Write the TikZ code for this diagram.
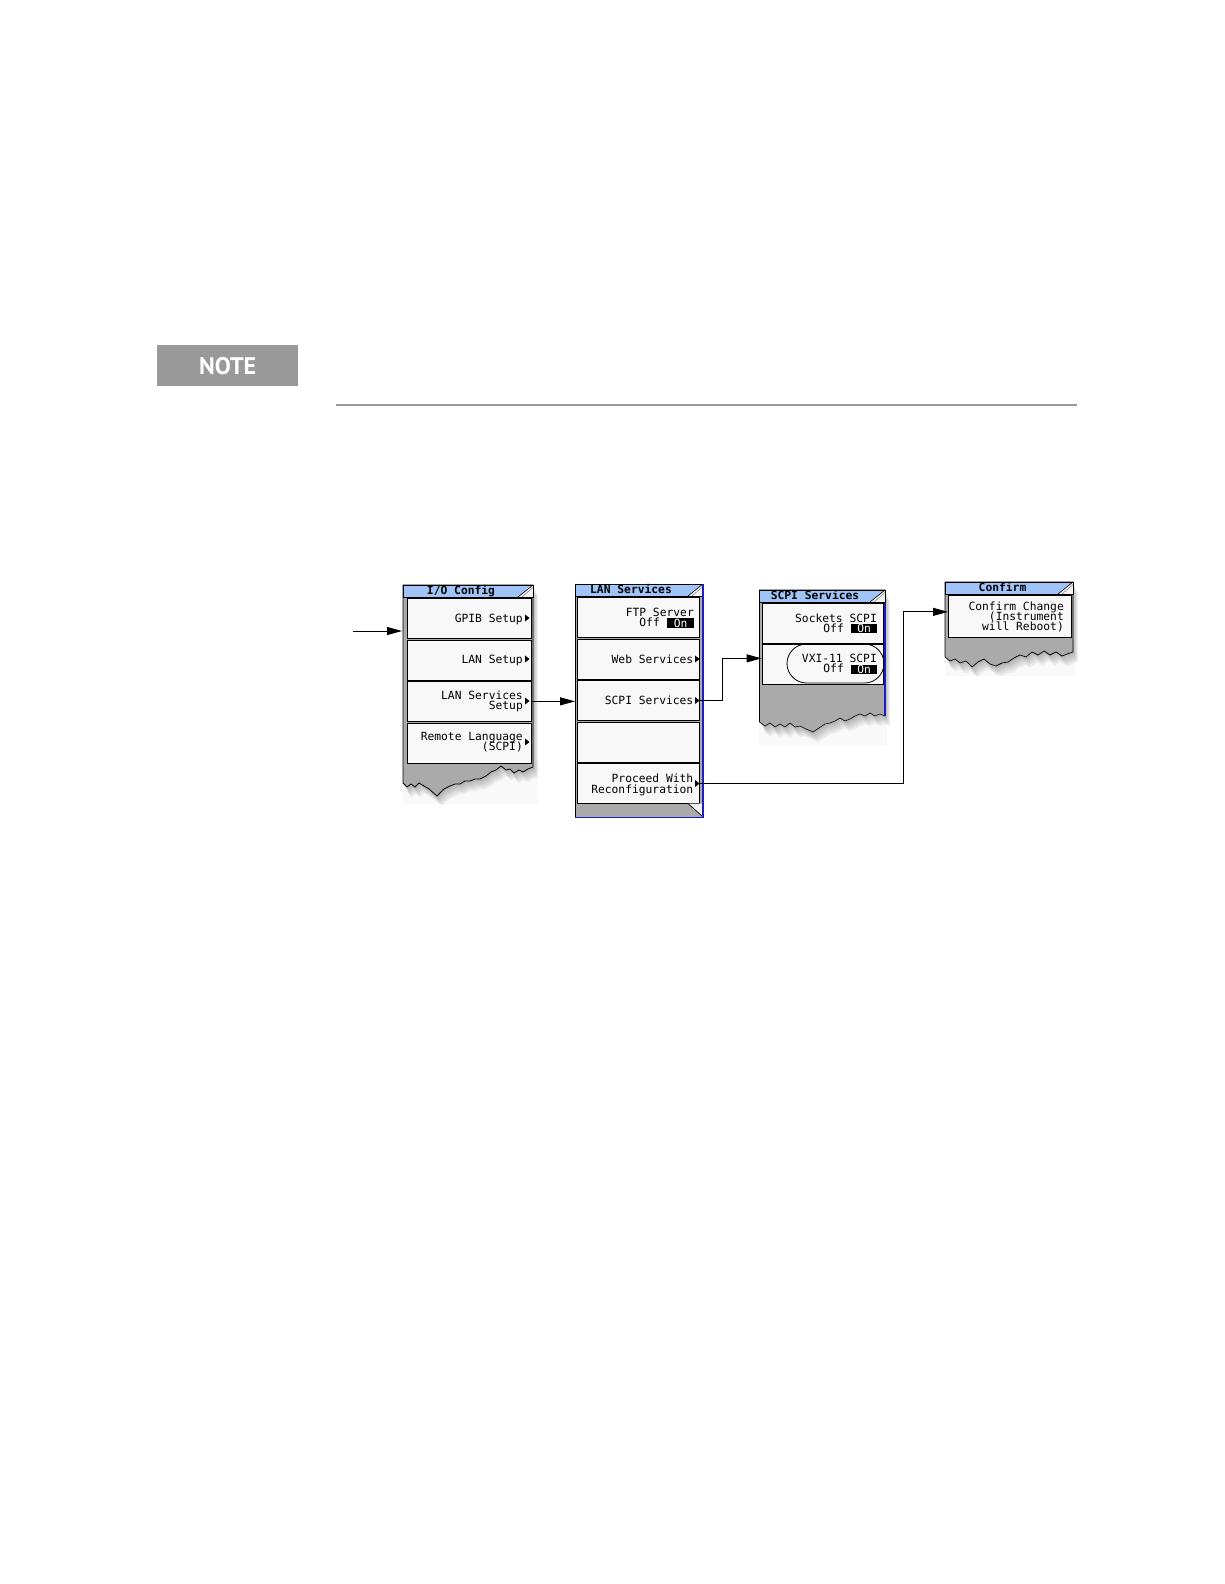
\documentclass[tikz,border=0pt]{standalone}
\usepackage{fontspec}
\usetikzlibrary{arrows.meta}
\newfontfamily\monofont{DejaVu Sans Mono}
\newfontfamily\notefont{PT Sans}
\definecolor{titleblue}{RGB}{160,196,248}
\definecolor{btnfill}{RGB}{248,248,248}
\definecolor{panelgray}{RGB}{170,170,170}
\definecolor{edgeblue}{RGB}{30,30,190}
\definecolor{notegray}{RGB}{153,153,153}
\tikzset{
  btn/.style={draw=black, fill=btnfill, line width=0.7pt, inner sep=0pt, anchor=north west},
  txt/.style={font=\monofont\fontsize{11.3}{11.3}\selectfont, inner sep=0pt, anchor=base east},
  ttl/.style={font=\monofont\bfseries\fontsize{11.3}{11.3}\selectfont, inner sep=0pt, anchor=base},
  onbox/.style={fill=black, text=white, font=\monofont\fontsize{11.3}{11.3}\selectfont, inner sep=0pt,
                minimum width=27pt, minimum height=9.5pt, anchor=north west},
  arr/.style={line width=1pt, -{Triangle[length=15pt,width=8pt]}},
  panelnode/.style={inner sep=0pt, anchor=north west},
  pics/tri/.style={code={\fill (0,-3.5) -- (4.5,0) -- (0,3.5) -- cycle;}},
}
\newcommand\ttlbar[3]{%
  \fill[titleblue] (#1,#2) rectangle (#3,#2+12);
  \fill[gray!10] (#3-15,#2+12) -- (#3,#2) -- (#3,#2+12) -- cycle;
  \draw[line width=0.6pt] (#3-15,#2+12) -- (#3,#2);
  \draw[gray, line width=0.5pt] (#3-11,#2+12) -- (#3,#2+2.5);
  \draw[line width=0.8pt] (#1,#2) rectangle (#3,#2+12);
}
\def\iopath{(403,585) -- (533,585) -- (533,767) -- (528,769) -- (523,772) -- (519,770) -- (514,773) -- (510,769) -- (506,770) -- (501,766) -- (496,770) -- (491,772) -- (486,776) -- (480,779) -- (475,779) -- (470,781) -- (465,781) -- (460,784) -- (455,784) -- (450,786) -- (444,789) -- (437,796) -- (429,789) -- (424,786) -- (419,783) -- (415,787) -- (411,784) -- (407,787) -- (403,783) -- cycle}
\def\scpipath{(759.5,590) -- (885,590) -- (885,716) -- (880,714) -- (875,716) -- (870,713) -- (865,716) -- (860,714) -- (855,716) -- (850,719) -- (845,721) -- (840,718) -- (835,721) -- (830,723) -- (825,724) -- (819,728) -- (813,732) -- (806,729) -- (800,726) -- (795,727) -- (790,723) -- (785,727) -- (780,724) -- (775,727) -- (770,723) -- (765,726) -- (759.5,722) -- cycle}
\def\confpath{(945,582) -- (1073,582) -- (1073,652) -- (1067,654) -- (1062,656) -- (1056,652) -- (1050,655) -- (1044,651) -- (1038,655) -- (1032,652) -- (1026,657) -- (1020,655) -- (1014,658) -- (1008,662) -- (1002,663) -- (996,666) -- (990,664) -- (984,659) -- (978,662) -- (972,667) -- (966,661) -- (960,663) -- (955,659) -- (950,661) -- (945,657) -- cycle}
\begin{document}
\begin{tikzpicture}[x=1pt,y=-1pt]
\useasboundingbox[fill=white] (0,0) rectangle (1224,1584);

% NOTE tab and rule
\node[fill=notegray, minimum width=141pt, minimum height=41pt, inner sep=0pt, anchor=north west,
      text=white, font=\notefont\bfseries\fontsize{24}{24}\selectfont] (note) at (157,345) {NOTE};
\draw[notegray, line width=1.5pt] (336,405) -- (1077,405);

% faint backgrounds behind torn edges
\fill[gray!5] (403,760) rectangle (538,804);
\fill[gray!5] (759,700) rectangle (887,746);
\fill[gray!5] (945,645) rectangle (1075,676);

% ---------- I/O Config panel ----------
\node[panelnode, minimum width=131pt, minimum height=212pt] (io) at (402,585) {};
\foreach \d in {2,4,6,8,10} {\fill[black,opacity=0.06,shift={(0.5*\d,\d)}] \iopath;}
\fill[panelgray] \iopath;
\draw[black, line width=0.8pt] \iopath;
\ttlbar{403}{585}{533}
\node[ttl] (iot) at (461,594.5) {I/O Config};
\node[btn, minimum width=124pt, minimum height=40pt] (io1) at (407,598) {};
\node[btn, minimum width=124pt, minimum height=40pt] (io2) at (407,639.5) {};
\node[btn, minimum width=124pt, minimum height=40pt] (io3) at (407,681) {};
\node[btn, minimum width=124pt, minimum height=40pt] (io4) at (407,722.5) {};
\node[txt] (io1a) at (523,622) {GPIB Setup};
\pic at (525,618) {tri};
\node[txt] (io2a) at (523,663) {LAN Setup};
\pic at (525,659) {tri};
\node[txt] (io3a) at (523,699) {LAN Services};
\node[txt] (io3b) at (523,709.5) {Setup};
\pic at (525,701) {tri};
\node[txt] (io4a) at (523,740) {Remote Language};
\node[txt] (io4b) at (523,750.5) {(SCPI)};
\pic at (525,742) {tri};

% ---------- LAN Services panel ----------
\node[panelnode, minimum width=128pt, minimum height=233pt] (lan) at (575,584) {};
\fill[panelgray] (575,584) rectangle (703,817);
\ttlbar{575}{584}{703}
\node[ttl] (lant) at (631,593.5) {LAN Services};
\node[btn, minimum width=122pt, minimum height=40pt] (lan1) at (577,597) {};
\node[btn, minimum width=122pt, minimum height=40pt] (lan2) at (577,638.5) {};
\node[btn, minimum width=122pt, minimum height=40pt] (lan3) at (577,680) {};
\node[btn, minimum width=122pt, minimum height=40pt] (lan4) at (577,721.5) {};
\node[btn, minimum width=122pt, minimum height=40pt] (lan5) at (577,763) {};
\fill[gray!10] (688,803.5) -- (703,803.5) -- (703,817) -- cycle;
\draw[line width=0.7pt] (688,803.5) -- (702,816);
\draw[black, line width=0.8pt] (575,817) -- (575,584) -- (703,584);
\draw[edgeblue, line width=1.6pt] (703,584) -- (703,817.5) -- (574.5,817.5);
\node[txt] (lan1a) at (694,616) {FTP Server};
\node[txt] (lan1b) at (660,626) {Off};
\node[onbox] (lan1c) at (667,618) {On};
\node[txt] (lan2a) at (693.5,663) {Web Services};
\pic at (695,659) {tri};
\node[txt] (lan3a) at (693.5,704) {SCPI Services};
\pic at (695,700.5) {tri};
\node[txt] (lan5a) at (693.5,782) {Proceed With};
\node[txt] (lan5b) at (693.5,793) {Reconfiguration};
\pic at (695,783.5) {tri};

% ---------- SCPI Services panel ----------
\node[panelnode, minimum width=125.5pt, minimum height=142pt] (scpi) at (759.5,590) {};
\foreach \d in {2,4,6,8,10} {\fill[black,opacity=0.06,shift={(0.5*\d,\d)}] \scpipath;}
\fill[panelgray] \scpipath;
\draw[black, line width=0.6pt] \scpipath;
\draw[edgeblue, line width=1.6pt] (885,590) -- (885,716);
\ttlbar{759.5}{590}{885}
\node[ttl] (scpit) at (815,599.5) {SCPI Services};
\node[btn, minimum width=121.5pt, minimum height=40pt] (scpi1) at (761.5,602.5) {};
\node[btn, minimum width=121.5pt, minimum height=40pt] (scpi2) at (761.5,643.5) {};
\node[txt] (scpi1a) at (877,622) {Sockets SCPI};
\node[txt] (scpi1b) at (844,632) {Off};
\node[onbox, minimum width=26pt, minimum height=9pt] (scpi1c) at (851,624) {On};
\node[txt] (scpi2a) at (877,662.5) {VXI-11 SCPI};
\node[txt] (scpi2b) at (844,672.5) {Off};
\node[onbox, minimum width=26pt, minimum height=9pt] (scpi2c) at (851,664.5) {On};
\draw[line width=0.8pt, rounded corners=19.5pt] (787,644) rectangle (884,683);

% ---------- Confirm panel ----------
\node[panelnode, minimum width=128pt, minimum height=85pt] (conf) at (945,582) {};
\foreach \d in {2,4,6,8,10} {\fill[black,opacity=0.06,shift={(0.5*\d,\d)}] \confpath;}
\fill[panelgray] \confpath;
\draw[black, line width=0.7pt] \confpath;
\ttlbar{945}{582}{1073}
\node[ttl] (conft) at (1002.5,591.5) {Confirm};
\node[btn, minimum width=123pt, minimum height=42pt] (conf1) at (948,595) {};
\node[txt] (conf1a) at (1064,610) {Confirm Change};
\node[txt] (conf1b) at (1064,620) {(Instrument};
\node[txt] (conf1c) at (1064,630.5) {will Reboot)};

% ---------- connectors ----------
\coordinate (src) at (353,631);
\draw[arr] (src) -- (io.west |- src);
\draw[arr] (io3.east) -- (lan.west |- io3.east);
\draw[arr] (lan3.east) -- ++(23,0) |- ([yshift=5.5pt]scpi2.west);
\draw[arr] (lan5.east) -- ++(204,0) |- ([yshift=4.5pt]conf1.west);
\end{tikzpicture}
\end{document}
